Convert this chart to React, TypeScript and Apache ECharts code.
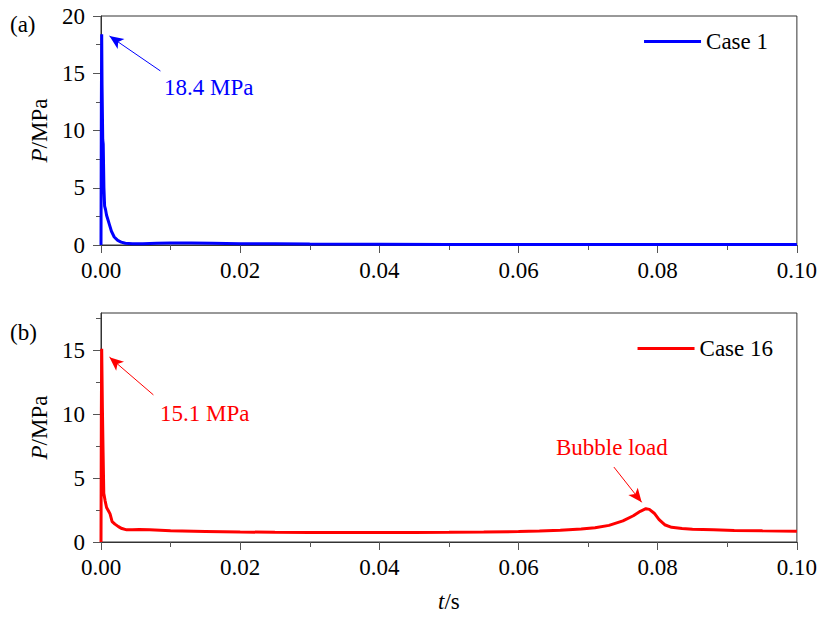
import React, { useEffect, useRef } from "react";
import * as echarts from "echarts";

// ---- Data ----
const case1Time = [
  0, 0.00005, 0.0001, 0.00015, 0.00025, 0.00032, 0.00042, 0.00052, 0.00065, 0.0008,
  0.001, 0.0012, 0.0015, 0.0019, 0.0024, 0.0029, 0.0035, 0.0045, 0.006, 0.008,
  0.01, 0.013, 0.016, 0.02, 0.025, 0.03, 0.04, 0.05, 0.06, 0.07, 0.08, 0.09, 0.1,
];
const case1P = [
  0, 12, 18.4, 14, 9.2, 8.8, 5.0, 3.4, 3.1, 2.6,
  2.2, 1.8, 1.2, 0.7, 0.4, 0.25, 0.15, 0.1, 0.12, 0.15,
  0.17, 0.17, 0.16, 0.12, 0.1, 0.08, 0.06, 0.05, 0.05, 0.05, 0.05, 0.05, 0.05,
];

const case16Time = [
  0, 0.00005, 0.0001, 0.0002, 0.0003, 0.0004, 0.0006, 0.0008, 0.0011, 0.0013,
  0.0016, 0.002, 0.0025, 0.003, 0.0037, 0.0045, 0.0055, 0.007, 0.01, 0.015,
  0.02, 0.025, 0.03, 0.035, 0.04, 0.045, 0.05, 0.055, 0.06, 0.063,
  0.066, 0.069, 0.071, 0.073, 0.075, 0.0765, 0.0775, 0.0783, 0.0788, 0.0795,
  0.0802, 0.081, 0.082, 0.0835, 0.085, 0.088, 0.091, 0.095, 0.1,
];
const case16P = [
  0, 10, 15.1, 10.5, 7.0, 3.8, 3.2, 2.7, 2.4, 2.2,
  1.6, 1.4, 1.2, 1.05, 0.95, 0.95, 0.98, 0.96, 0.88, 0.83,
  0.78, 0.76, 0.75, 0.74, 0.74, 0.75, 0.76, 0.78, 0.82, 0.86,
  0.92, 1.02, 1.12, 1.3, 1.65, 2.05, 2.4, 2.6, 2.55, 2.25,
  1.75, 1.35, 1.15, 1.05, 1.0, 0.95, 0.9, 0.87, 0.85,
];

const seriesNames = ["Case 1", "Case 16"];
const panelLabels = ["(a)", "(b)"];
const peakLabels = ["18.4 MPa", "15.1 MPa"];
const bubbleLabel = "Bubble load";
const yMajorB = [0, 5, 10, 15];
const yMinorB = [2.5, 7.5, 12.5, 17.5];

// annotation arrows in data coordinates: [tail, tip]
const arrow1 = [[0.00854, 15.2], [0.00122, 18.25]];
const arrow2 = [[0.00753, 11.5], [0.00122, 14.45]];
const arrow3 = [[0.0737, 5.86], [0.0777, 3.1]];

const FONT = "Liberation Serif";
const FS = 23;

export default function App() {
  const ref = useRef<HTMLDivElement>(null);
  useEffect(() => {
    if (!ref.current) return;
    const chart = echarts.init(ref.current, null, { renderer: "svg" });
    const d1 = case1Time.map((t, i) => [t, case1P[i]]);
    const d16 = case16Time.map((t, i) => [t, case16P[i]]);

    const axisLine = { show: true, lineStyle: { color: "#333", width: 1 } };
    const tickStyle = { color: "#555", width: 1 };
    const labelStyle = { fontSize: FS, fontFamily: FONT, color: "#000" };

    const xAxisBase = (gridIndex: number) => ({
      type: "value",
      gridIndex,
      min: 0,
      max: 0.1,
      interval: 0.02,
      axisLine,
      axisTick: { show: true, inside: false, length: 8, lineStyle: tickStyle },
      minorTick: { show: true, splitNumber: 2, length: 5, lineStyle: tickStyle },
      splitLine: { show: false },
      minorSplitLine: { show: false },
      axisLabel: {
        ...labelStyle,
        margin: 14,
        formatter: (v: number) => v.toFixed(2),
      },
    });

    const yName = {
      name: "{i|P}/MPa",
      nameLocation: "middle",
      nameGap: 41,
      nameRotate: 90,
      nameTextStyle: {
        ...labelStyle,
        rich: { i: { ...labelStyle, fontStyle: "italic" } },
      },
    };

    const legendBase = {
      itemWidth: 57,
      itemHeight: 3,
      itemGap: 5,
      textStyle: labelStyle,
      selectedMode: false,
    };

    const option: any = {
      animation: false,
      backgroundColor: "#fff",
      textStyle: { fontFamily: FONT },
      grid: [
        { left: 101, right: 22, top: 16, height: 229, show: true, borderColor: "#333", borderWidth: 1, backgroundColor: "transparent" },
        { left: 101, right: 22, top: 313, height: 229, show: true, borderColor: "#333", borderWidth: 1, backgroundColor: "transparent" },
      ],
      xAxis: [
        xAxisBase(0),
        {
          ...xAxisBase(1),
          name: "{i|t}/s",
          nameLocation: "middle",
          nameGap: 48,
          nameTextStyle: { ...labelStyle, rich: { i: { ...labelStyle, fontStyle: "italic" } } },
        },
      ],
      yAxis: [
        {
          type: "value",
          gridIndex: 0,
          position: "left",
          min: 0,
          max: 20,
          interval: 5,
          axisLine,
          axisTick: { show: true, inside: false, length: 8, lineStyle: tickStyle },
          minorTick: { show: true, splitNumber: 2, length: 5, lineStyle: tickStyle },
          splitLine: { show: false },
          axisLabel: { ...labelStyle, margin: 16 },
          ...yName,
        },
        {
          type: "value",
          gridIndex: 1,
          position: "left",
          min: 0,
          max: 17.9,
          axisLine,
          axisTick: { show: true, inside: false, length: 8, lineStyle: tickStyle, customValues: yMajorB },
          splitLine: { show: false },
          axisLabel: { ...labelStyle, margin: 16, customValues: yMajorB },
          ...yName,
        },
        {
          type: "value",
          gridIndex: 1,
          position: "left",
          min: 0,
          max: 17.9,
          axisLine: { show: false },
          axisTick: { show: true, inside: false, length: 5, lineStyle: tickStyle, customValues: yMinorB },
          splitLine: { show: false },
          axisLabel: { show: false },
        },
      ],
      legend: [
        { ...legendBase, data: [{ name: seriesNames[0], icon: "rect" }], right: 47, top: 25 },
        { ...legendBase, data: [{ name: seriesNames[1], icon: "rect" }], right: 42, top: 332 },
      ],
      series: [
        {
          name: seriesNames[0],
          type: "line",
          xAxisIndex: 0,
          yAxisIndex: 0,
          data: d1,
          symbol: "none",
          color: "#0000ff",
          lineStyle: { color: "#0000ff", width: 3 },
          markLine: {
            silent: true,
            symbol: ["none", "arrow"],
            symbolSize: [9, 14],
            label: { show: false },
            lineStyle: { color: "#0000ff", width: 1, type: "solid" },
            data: [[{ coord: arrow1[0] }, { coord: arrow1[1] }]],
          },
        },
        {
          name: seriesNames[1],
          type: "line",
          xAxisIndex: 1,
          yAxisIndex: 1,
          data: d16,
          symbol: "none",
          color: "#ff0000",
          lineStyle: { color: "#ff0000", width: 3 },
          markLine: {
            silent: true,
            symbol: ["none", "arrow"],
            symbolSize: [9, 14],
            label: { show: false },
            lineStyle: { color: "#ff0000", width: 1, type: "solid" },
            data: [
              [{ coord: arrow2[0] }, { coord: arrow2[1] }],
              [{ coord: arrow3[0] }, { coord: arrow3[1] }],
            ],
          },
        },
      ],
      graphic: [
        { type: "text", x: 10, y: 24, style: { text: panelLabels[0], fontSize: FS, fontFamily: FONT, fill: "#000", verticalAlign: "middle" } },
        { type: "text", x: 10, y: 332, style: { text: panelLabels[1], fontSize: FS, fontFamily: FONT, fill: "#000", verticalAlign: "middle" } },
        { type: "text", x: 164, y: 87, style: { text: peakLabels[0], fontSize: FS, fontFamily: FONT, fill: "#0000ff", verticalAlign: "middle" } },
        { type: "text", x: 160, y: 413, style: { text: peakLabels[1], fontSize: FS, fontFamily: FONT, fill: "#ff0000", verticalAlign: "middle" } },
        { type: "text", x: 556, y: 447, style: { text: bubbleLabel, fontSize: FS, fontFamily: FONT, fill: "#ff0000", verticalAlign: "middle" } },
      ],
    };
    chart.setOption(option);
    return () => chart.dispose();
  }, []);
  return (
    <div
      ref={ref}
      style={{ position: "fixed", left: 0, top: 0, width: 820, height: 627 }}
    />
  );
}
